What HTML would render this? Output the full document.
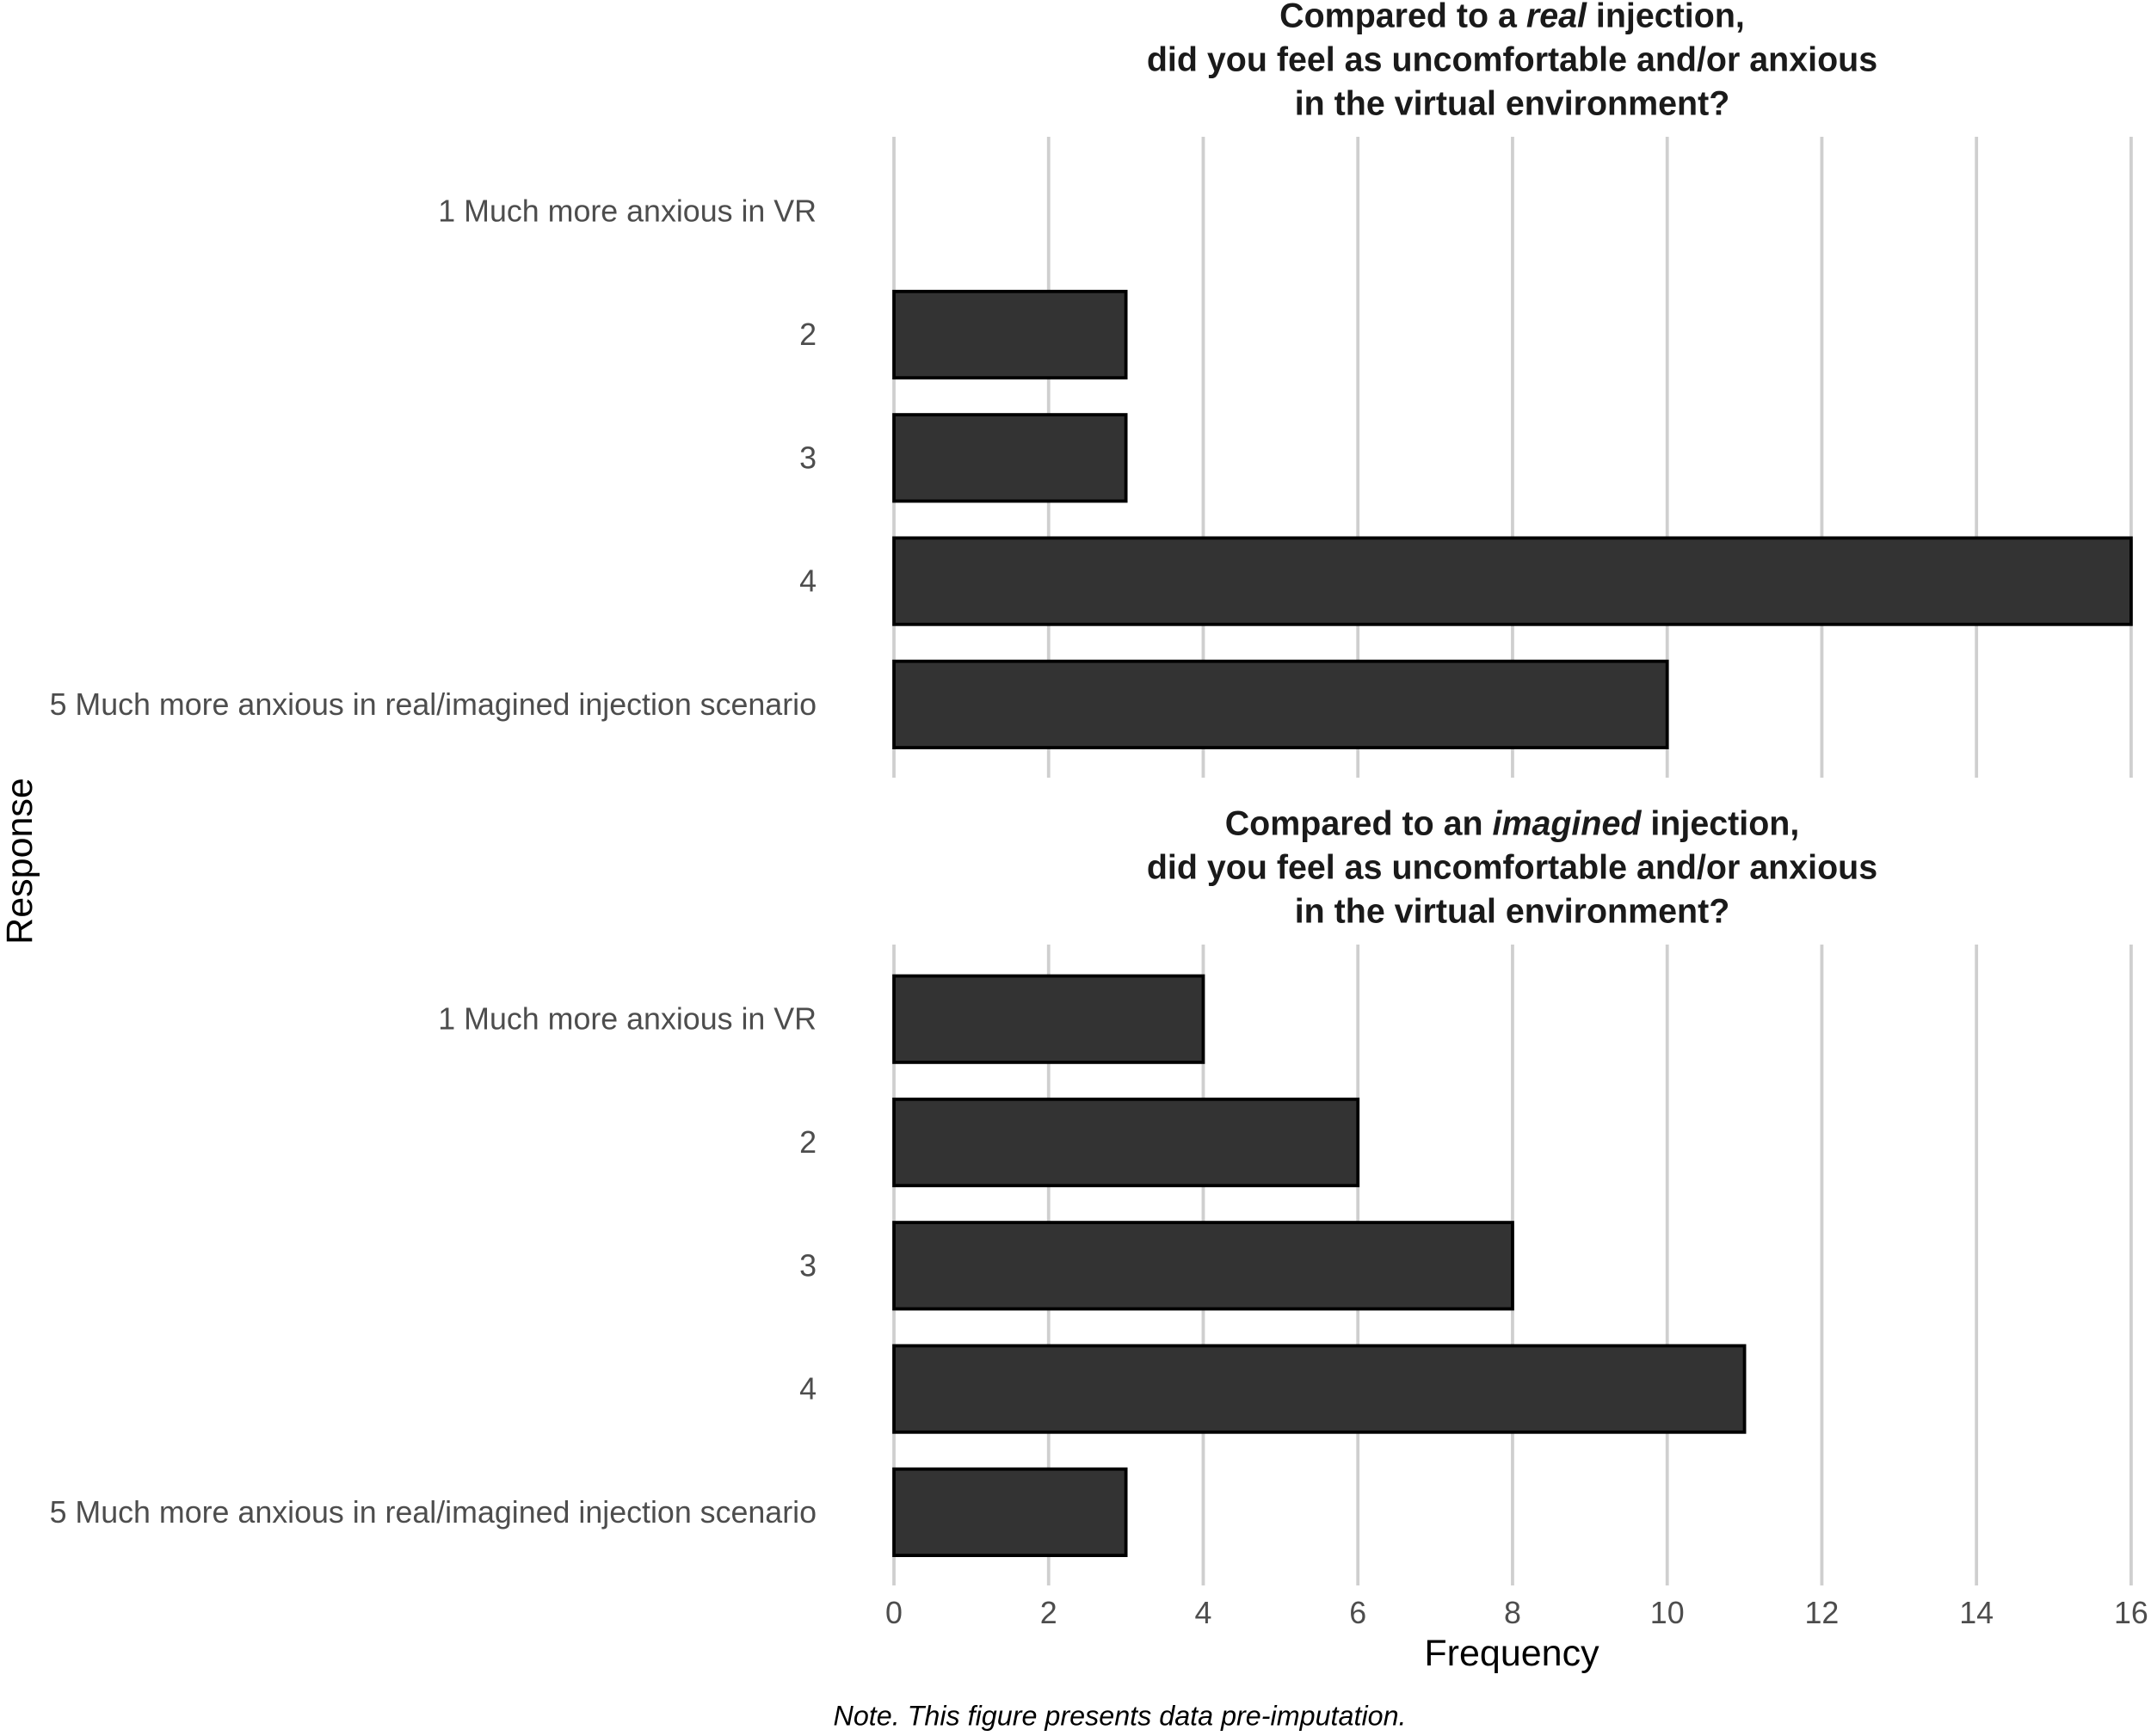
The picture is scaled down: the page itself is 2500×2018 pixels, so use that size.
<!DOCTYPE html>
<html lang="en">
<head>
<meta charset="utf-8">
<title>Comparison of anxiety in VR and injection scenarios</title>
<style>
  html, body { margin: 0; padding: 0; background: #fff; }
  svg { display: block; font-family: "Liberation Sans", Arial, Helvetica, sans-serif; }
  .title { font-size: 39.4px; font-weight: 700; fill: #1a1a1a; text-anchor: middle; }
  .title tspan.em { font-style: italic; }
  .tick { font-size: 35.8px; fill: #4d4d4d; }
  .axis-title { font-size: 43px; fill: #000; }
  .note { font-size: 32.3px; font-style: italic; fill: #000; }
</style>
</head>
<body>
<svg id="chart" xmlns="http://www.w3.org/2000/svg" width="2500" height="2018" viewBox="0 0 2500 2018">
  <rect x="0" y="0" width="2500" height="2018" fill="#ffffff"/>
  <g id="panels"></g>
  <g>
    <text class="title" x="1757.5" y="31.5">Compared to a <tspan class="em">real</tspan> injection,</text>
    <text class="title" x="1757.5" y="82.5">did you feel as uncomfortable and/or anxious</text>
    <text class="title" x="1757.5" y="133.5">in the virtual environment?</text>
  </g>
  <g>
    <text class="title" x="1757.5" y="970.5">Compared to an <tspan class="em">imagined</tspan> injection,</text>
    <text class="title" x="1757.5" y="1021.5">did you feel as uncomfortable and/or anxious</text>
    <text class="title" x="1757.5" y="1072.5">in the virtual environment?</text>
  </g>
  <text class="axis-title" text-anchor="middle" transform="translate(37 1001) rotate(-90)">Response</text>
  <text class="axis-title" text-anchor="middle" x="1757" y="1936">Frequency</text>
  <text class="note" x="968.5" y="2005.5">Note. This figure presents data pre-imputation.</text>
</svg>
<script>
const categories = [
  "1 Much more anxious in VR",
  "2",
  "3",
  "4",
  "5 Much more anxious in real/imagined injection scenario"
];
const realValues = [0, 3, 3, 16, 10];
const imaginedValues = [4, 6, 8, 11, 3];
const xTicks = [0, 2, 4, 6, 8, 10, 12, 14, 16];

const SVG_NS = "http://www.w3.org/2000/svg";
const X0 = 1039;
const UNIT = 89.87;
const ROW0 = 245.7;
const ROW_STEP = 143.3;
const BAR_H = 100.4;
const PANEL_OFFSET = 939;
const GRID_TOP = 159;
const GRID_BOTTOM = 904;
const LABEL_X = 949;

function xScale(v) {
  return X0 + v * UNIT;
}
function yScale(i, offset) {
  return ROW0 + i * ROW_STEP + offset;
}
function make(tag, attrs, parent) {
  const el = document.createElementNS(SVG_NS, tag);
  for (const k in attrs) el.setAttribute(k, attrs[k]);
  parent.appendChild(el);
  return el;
}

function drawPanel(panelName, values, offset, showXLabels) {
  const root = document.getElementById("panels");
  const g = make("g", {}, root);
  
  

  xTicks.forEach(function (t) {
    const line = make("line", {
      x1: xScale(t), x2: xScale(t),
      y1: GRID_TOP + offset, y2: GRID_BOTTOM + offset,
      stroke: "#cfcfcf", "stroke-width": 3.8
    }, g);
    
    
  });

  categories.forEach(function (c, i) {
    const cy = yScale(i, offset);
    const label = make("text", { x: LABEL_X, y: cy + 12, "text-anchor": "end", class: "tick" }, g);
    label.textContent = c;
    
    

    const bar = make("rect", {
      x: xScale(0), y: cy - BAR_H / 2,
      width: xScale(values[i]) - xScale(0), height: BAR_H,
      fill: "#333333", stroke: "#000000", "stroke-width": 3.8
    }, g);
    
    
  });

  if (showXLabels) {
    xTicks.forEach(function (t) {
      const tick = make("text", { x: xScale(t), y: 1887, "text-anchor": "middle", class: "tick" }, g);
      tick.textContent = String(t);
      
      
    });
  }
}

drawPanel("real-injection", realValues, 0, false);
drawPanel("imagined-injection", imaginedValues, PANEL_OFFSET, true);
</script>
</body>
</html>
